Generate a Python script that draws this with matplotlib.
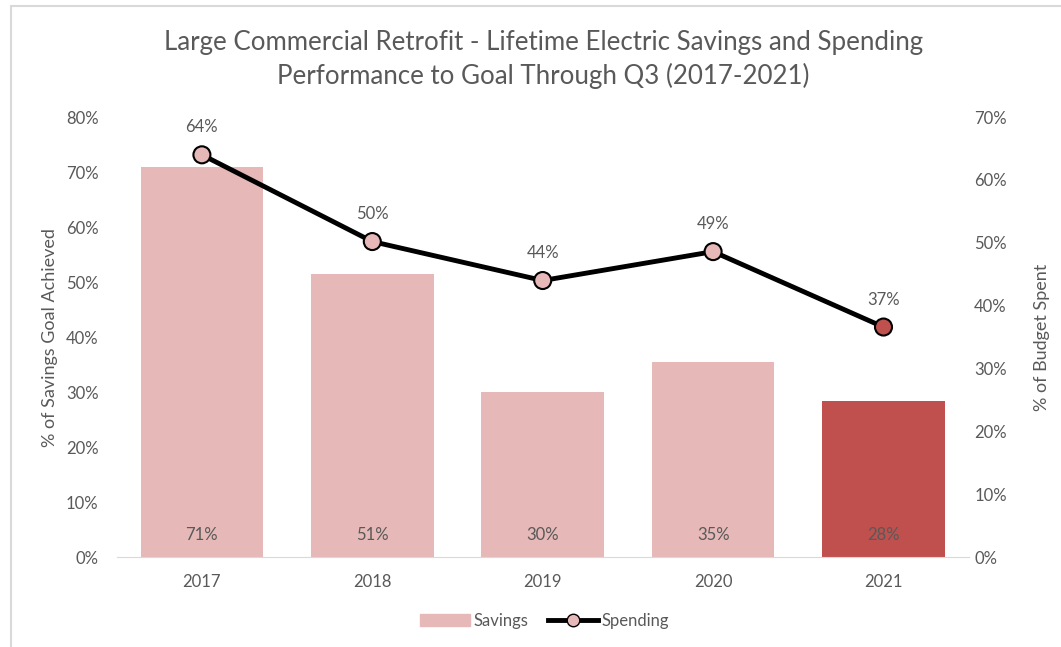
import matplotlib.pyplot as plt
from matplotlib.patches import Rectangle
from matplotlib.lines import Line2D
import numpy as np

plt.rcParams['font.family'] = ['Lato', 'DejaVu Sans']

# data
years = ['2017', '2018', '2019', '2020', '2021']
savings = [71, 51, 30, 35, 28]
spending = [64, 50, 44, 49, 37]
spending_plot = [64.0, 50.2, 44.0, 48.6, 36.6]
savings_plot = [70.9, 51.5, 30.0, 35.5, 28.4]

grey = '#595959'
light = '#E6B8B7'
dark = '#C0504D'

fig = plt.figure(figsize=(10.61, 6.47), dpi=100)
ax = fig.add_axes([0.110, 0.139, 0.803, 0.680])
ax2 = ax.twinx()

x = np.arange(len(years))
bar_colors = [light] * 4 + [dark]
ax.bar(x, savings_plot, width=0.72, color=bar_colors, zorder=2)
for xi, v in zip(x, savings):
    ax.text(xi, 2.5, f'{v}%', ha='center', va='bottom', color=grey, fontsize=12)

ax.set_xlim(-0.5, len(years) - 0.5)
ax.set_ylim(0, 80)
ax.set_yticks(range(0, 81, 10))
ax.set_yticklabels([f'{t}%' for t in range(0, 81, 10)])
ax.set_xticks(x)
ax.set_xticklabels(years)
ax.set_ylabel('% of Savings Goal Achieved', color=grey, fontsize=13)
ax.yaxis.set_label_coords(-0.069, 0.5)

ax2.plot(x, spending_plot, color='black', lw=3.5, zorder=3)
face = [light] * 4 + [dark]
ax2.scatter(x, spending_plot, s=150, c=face, edgecolors='black', linewidths=1.5, zorder=4)
for xi, yv, v in zip(x, spending_plot, spending):
    ax2.annotate(f'{v}%', (xi, yv), xytext=(0, 14), textcoords='offset points',
                 ha='center', va='bottom', color=grey, fontsize=12)
ax2.set_ylim(0, 70)
ax2.set_yticks(range(0, 71, 10))
ax2.set_yticklabels([f'{t}%' for t in range(0, 71, 10)])
ax2.set_ylabel('% of Budget Spent', color=grey, fontsize=13)
ax2.yaxis.set_label_coords(1.077, 0.5)

for a in (ax, ax2):
    for s in a.spines.values():
        s.set_visible(False)
    a.tick_params(length=0, colors=grey, labelsize=12)
ax.spines['bottom'].set_visible(True)
ax.spines['bottom'].set_color('#D9D9D9')
ax.tick_params(axis='y', pad=13)
ax2.tick_params(axis='y', pad=4)
ax.tick_params(axis='x', pad=12)

fig.text(0.512, 0.935, 'Large Commercial Retrofit - Lifetime Electric Savings and Spending',
         ha='center', va='center', fontsize=18.6, color=grey)
fig.text(0.512, 0.882, 'Performance to Goal Through Q3 (2017-2021)',
         ha='center', va='center', fontsize=18.6, color=grey)

handles = [Rectangle((0, 0), 1, 1, color=light),
           Line2D([0], [0], color='black', lw=3.5, marker='o', markersize=9,
                  markerfacecolor=light, markeredgecolor='black')]
fig.legend(handles, ['Savings', 'Spending'], loc='center', bbox_to_anchor=(0.513, 0.04),
           ncol=2, frameon=False, fontsize=12, labelcolor=grey,
           handlelength=3, handletextpad=0.2, columnspacing=1.2)

fig.patches.append(Rectangle((11 / 1061, -0.1), 1.1, 1 - 6 / 647 + 0.1,
                             transform=fig.transFigure, fill=False,
                             edgecolor='#D9D9D9', lw=1.5))

fig.savefig('out.png', dpi=100)
